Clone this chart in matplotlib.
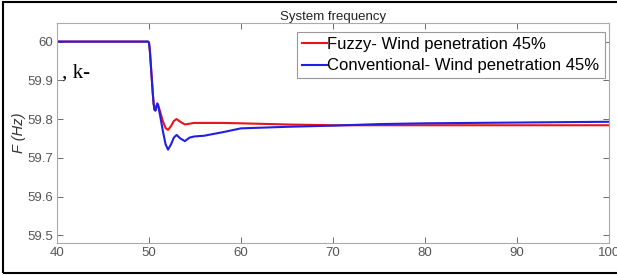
import numpy as np
from matplotlib import pyplot as plt
from matplotlib.patches import Rectangle

# time (s) and frequency (Hz)
t = [40, 49.9, 50.0, 50.1, 50.2, 50.3, 50.4, 50.5, 50.6, 50.7, 50.8, 50.9, 51.0, 51.2, 51.5, 51.8,
     52.07, 52.4, 52.7, 53.0, 53.4, 53.9, 54.4, 54.9, 56, 58, 60, 65, 70, 75, 80, 90, 100]
fuzzy = [60, 60, 59.997, 59.975, 59.94, 59.905, 59.87, 59.84, 59.824, 59.822, 59.832, 59.84,
         59.836, 59.82, 59.795, 59.777, 59.772, 59.782, 59.795, 59.800, 59.793, 59.786, 59.788,
         59.790, 59.790, 59.790, 59.789, 59.786, 59.784, 59.784, 59.784, 59.784, 59.784]
conventional = [60, 60, 59.997, 59.975, 59.94, 59.905, 59.87, 59.84, 59.824, 59.822, 59.832,
                59.84, 59.834, 59.81, 59.77, 59.735, 59.721, 59.735, 59.752, 59.759, 59.750,
                59.743, 59.752, 59.755, 59.757, 59.766, 59.776, 59.780, 59.783, 59.787, 59.789,
                59.791, 59.793]

xticks = [40, 50, 60, 70, 80, 90, 100]
yticks = [59.5, 59.6, 59.7, 59.8, 59.9, 60]

plt.rcParams['font.family'] = ['Liberation Sans', 'DejaVu Sans']

fig = plt.figure(figsize=(6.17, 2.75), dpi=100)
ax = fig.add_axes([57 / 617, 1 - 243 / 275, 552 / 617, 220 / 275])

ax.plot(t, fuzzy, color='#e8141c', lw=1.5, label='Fuzzy- Wind penetration 45%')
ax.plot(t, conventional, color='#2020e0', lw=1.5, label='Conventional- Wind penetration 45%')

ax.set_xlim(40, 100)
ax.set_ylim(59.48, 60.048)
ax.set_xticks(xticks)
ax.set_xticklabels([str(v) for v in xticks])
ax.set_yticks(yticks)
ax.set_yticklabels(['59.5', '59.6', '59.7', '59.8', '59.9', '60'])
ax.tick_params(direction='in', top=True, right=True, labelsize=9.5, colors='#555555',
               length=4, width=0.6, pad=3)
for s in ax.spines.values():
    s.set_color('#aaaaaa')
    s.set_linewidth(0.8)

ax.set_ylabel('F (Hz)', fontstyle='italic', fontsize=10.5, color='#333333', labelpad=1)
ax.set_title('System frequency', fontsize=9.5, color='#222222', pad=2)

leg = ax.legend(loc='upper right', fontsize=12, handlelength=1.5, handletextpad=0.05,
                borderpad=0.3, labelspacing=0.4, fancybox=False, framealpha=1,
                edgecolor='#999999', bbox_to_anchor=(0.992, 0.96), borderaxespad=0)
leg.get_frame().set_linewidth(0.8)

fig.text(62 / 617, 1 - 73 / 275, ', k-', family=['Liberation Serif', 'DejaVu Serif'],
         fontsize=15, va='center', ha='left')

fig.patches.append(Rectangle((3 / 617, 2 / 275), 1.2, 271 / 275, transform=fig.transFigure,
                             fill=False, edgecolor='black', lw=1.5))

fig.savefig('out.png', dpi=100)
